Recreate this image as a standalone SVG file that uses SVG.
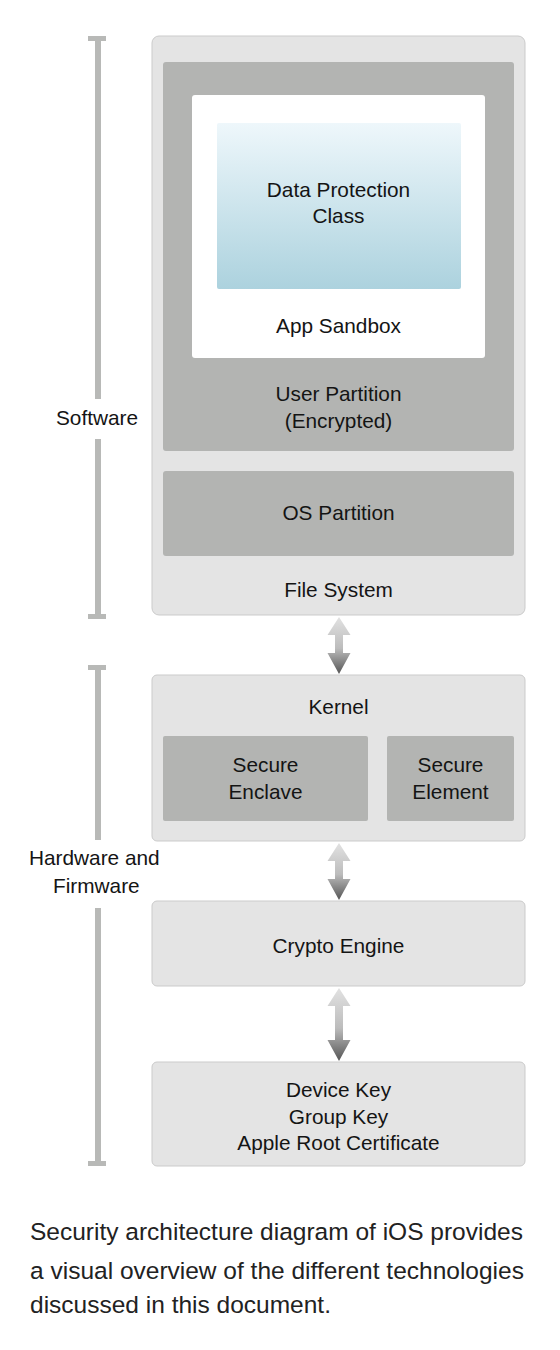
<svg xmlns="http://www.w3.org/2000/svg" width="560" height="1350" viewBox="0 0 560 1350">
<defs>
<linearGradient id="dp" x1="0" y1="0" x2="0" y2="1">
<stop offset="0" stop-color="#eef7fb"/>
<stop offset="1" stop-color="#acd2de"/>
</linearGradient>
<linearGradient id="ar" x1="0" y1="0" x2="0" y2="1">
<stop offset="0" stop-color="#e2e2e2"/>
<stop offset="0.55" stop-color="#bcbcbc"/>
<stop offset="1" stop-color="#555555"/>
</linearGradient>
<style>
.outer{fill:#e4e4e4;stroke:#cbcbcb;stroke-width:1}
.dark{fill:#b3b4b2}
.t{font-family:"Liberation Sans",Arial,sans-serif;font-size:20.8px;fill:#141414;text-anchor:middle}
.lbl{font-family:"Liberation Sans",Arial,sans-serif;font-size:20.8px;fill:#141414}
.cap{font-family:"Liberation Sans",Arial,sans-serif;font-size:24.5px;fill:#222}
.br{fill:#b8b9b7}
</style>
</defs>

<g id="brackets">
<rect class="br" x="88" y="36" width="18" height="5"/>
<rect class="br" x="95" y="36" width="6" height="363"/>
<rect class="br" x="95" y="439" width="6" height="180"/>
<rect class="br" x="88" y="614" width="18" height="5"/>
<rect class="br" x="88" y="665" width="18" height="5"/>
<rect class="br" x="95" y="665" width="6" height="175"/>
<rect class="br" x="95" y="908" width="6" height="258"/>
<rect class="br" x="88" y="1161" width="18" height="5"/>
<text class="lbl" x="56" y="425">Software</text>
<text class="lbl" x="29" y="865">Hardware and</text>
<text class="lbl" x="53" y="893">Firmware</text>
</g>

<g id="file-system">
<rect class="outer" x="152" y="36" width="373" height="579" rx="7"/>
<text class="t" x="338.5" y="597">File System</text>
</g>
<g id="user-partition">
<rect class="dark" x="163" y="62" width="351" height="389" rx="3"/>
<text class="t" x="338.5" y="401">User Partition</text>
<text class="t" x="338.5" y="428">(Encrypted)</text>
</g>
<g id="app-sandbox">
<rect fill="#ffffff" x="192" y="95" width="293" height="263" rx="3"/>
<text class="t" x="338.5" y="333">App Sandbox</text>
</g>
<g id="data-protection">
<rect fill="url(#dp)" x="217" y="123" width="244" height="166" rx="2"/>
<text class="t" x="338.5" y="197">Data Protection</text>
<text class="t" x="338.5" y="223">Class</text>
</g>
<g id="os-partition">
<rect class="dark" x="163" y="471" width="351" height="85" rx="3"/>
<text class="t" x="338.5" y="520">OS Partition</text>
</g>

<g id="kernel">
<rect class="outer" x="152" y="675" width="373" height="166" rx="5"/>
<text class="t" x="338.5" y="714">Kernel</text>
</g>
<g id="secure-enclave">
<rect class="dark" x="163" y="736" width="205" height="85" rx="2"/>
<text class="t" x="265.5" y="772">Secure</text>
<text class="t" x="265.5" y="799">Enclave</text>
</g>
<g id="secure-element">
<rect class="dark" x="387" y="736" width="127" height="85" rx="2"/>
<text class="t" x="450.5" y="772">Secure</text>
<text class="t" x="450.5" y="799">Element</text>
</g>
<g id="crypto-engine">
<rect class="outer" x="152" y="901" width="373" height="85" rx="5"/>
<text class="t" x="338.5" y="953">Crypto Engine</text>
</g>
<g id="keys">
<rect class="outer" x="152" y="1062" width="373" height="104" rx="5"/>
<text class="t" x="338.5" y="1097">Device Key</text>
<text class="t" x="338.5" y="1124">Group Key</text>
<text class="t" x="338.5" y="1150">Apple Root Certificate</text>
</g>

<g id="connectors">
<path fill="url(#ar)" d="M339 617 L350.5 635 L343 635 L343 653 L350.5 653 L339 674 L327.5 653 L335 653 L335 635 L327.5 635 Z"/>
<path fill="url(#ar)" d="M339 843 L350.5 861 L343 861 L343 879 L350.5 879 L339 900 L327.5 879 L335 879 L335 861 L327.5 861 Z"/>
<path fill="url(#ar)" d="M339 988 L350.5 1006 L343 1006 L343 1040 L350.5 1040 L339 1061 L327.5 1040 L335 1040 L335 1006 L327.5 1006 Z"/>
</g>

<g id="caption">
<text class="cap" x="30" y="1240">Security architecture diagram of iOS provides</text>
<text class="cap" x="30" y="1279">a visual overview of the different technologies</text>
<text class="cap" x="30" y="1313">discussed in this document.</text>
</g>
</svg>
